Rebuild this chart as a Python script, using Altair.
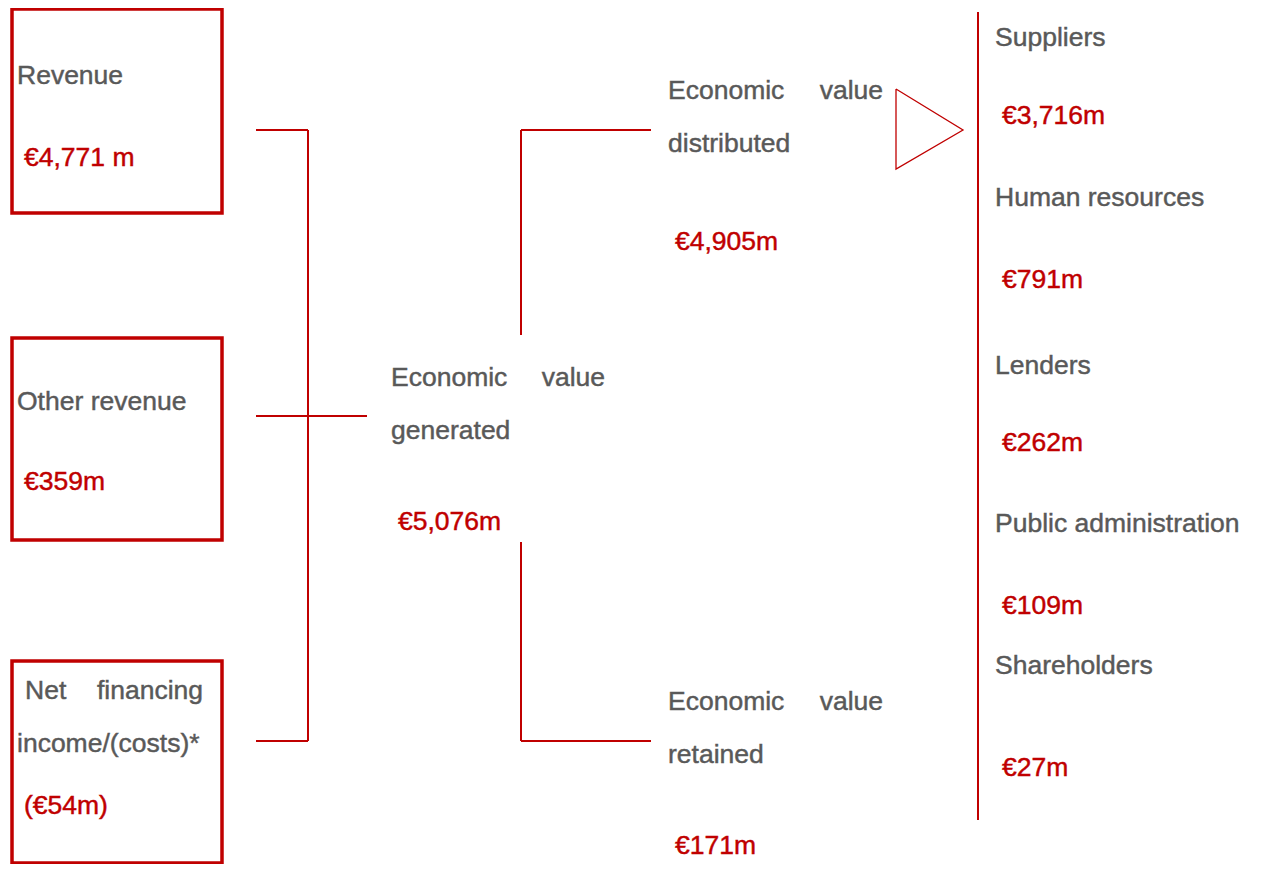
import altair as alt
import pandas as pd

# ---- content ----
left_labels = [["Revenue"], ["Other revenue"], ["Net|financing", "income/(costs)*"]]
left_values = ["€4,771 m", "€359m", "(€54m)"]
gen_label = ["Economic|value", "generated"]
gen_value = "€5,076m"
dist_label = ["Economic|value", "distributed"]
dist_value = "€4,905m"
ret_label = ["Economic|value", "retained"]
ret_value = "€171m"
stakeholders = ["Suppliers", "Human resources", "Lenders", "Public administration", "Shareholders"]
stake_values = ["€3,716m", "€791m", "€262m", "€109m", "€27m"]

# ---- layout (page pixel coordinates) ----
RED = "#C00000"
GRAY = "#595959"
FS = 26.5
W, H = 1265, 856
X0, Y0 = 8, 8
DY = 1

box_x = [12, 222]
box_y = [[9, 213], [338, 540], [661, 863]]
left_label_y = [[75], [401], [690, 743]]
left_value_y = [157, 481, 805]
left_label_x, left_just_right, left_value_x = 17, 203, 24

node_blocks = [
    # label lines, line ys, value, value y, x, right edge for justify
    (gen_label, [377, 430], gen_value, 521, 391, 605),
    (dist_label, [90, 143], dist_value, 241, 668, 883),
    (ret_label, [701, 754], ret_value, 845, 668, 883),
]
stake_label_y = [37, 197, 365, 523, 665]
stake_value_y = [115, 279, 442, 605, 767]
stake_x, stake_vx = 995, 1002

segments = [
    (256, 308, 130, 130), (308, 308, 130, 741), (256, 308, 741, 741), (256, 367, 416, 416),
    (521, 521, 130, 335), (521, 651, 130, 130),
    (521, 521, 542, 741), (521, 651, 741, 741),
    (978, 978, 12, 820),
]
tri_x = [896, 963, 896, 896]
tri_y = [89, 130, 169, 89]

# ---- build tables ----
texts = []


def add_line(line, x, y, right, color):
    y = y + DY
    if "|" in line:
        a, b = line.split("|")
        texts.append(dict(t=a, x=x, y=y, al="left", c=color))
        texts.append(dict(t=b, x=right, y=y, al="right", c=color))
    else:
        texts.append(dict(t=line, x=x, y=y, al="left", c=color))


for i, lines in enumerate(left_labels):
    for j, ln in enumerate(lines):
        lx = left_label_x + (8 if "|" in ln else 0)
        add_line(ln, lx, left_label_y[i][j], left_just_right, GRAY)
    add_line(left_values[i], left_value_x, left_value_y[i], 0, RED)

for lines, ys, val, vy, x, right in node_blocks:
    for ln, y in zip(lines, ys):
        add_line(ln, x, y, right, GRAY)
    add_line(val, x + 7, vy, 0, RED)

for i, s in enumerate(stakeholders):
    add_line(s, stake_x, stake_label_y[i], 0, GRAY)
    add_line(stake_values[i], stake_vx, stake_value_y[i], 0, RED)

text_df = pd.DataFrame(texts)
box_df = pd.DataFrame([dict(x=box_x[0], x2=box_x[1], y=b[0], y2=b[1]) for b in box_y])
seg_df = pd.DataFrame([dict(x=a, x2=b, y=c, y2=d) for a, b, c, d in segments])
tri_df = pd.DataFrame(dict(x=tri_x, y=tri_y, o=list(range(len(tri_x)))))

xs = alt.Scale(domain=[X0, X0 + W])
ys = alt.Scale(domain=[Y0, Y0 + H], reverse=True)

X = lambda f="x": alt.X(f, type="quantitative", scale=xs, axis=None)
Y = lambda f="y": alt.Y(f, type="quantitative", scale=ys, axis=None)

boxes = alt.Chart(box_df).mark_rect(fill="transparent", stroke=RED, strokeWidth=3.5).encode(
    x=X(), x2="x2", y=Y(), y2="y2")
rules = alt.Chart(seg_df).mark_rule(color=RED, strokeWidth=2).encode(
    x=X(), x2="x2", y=Y(), y2="y2")
tri = alt.Chart(tri_df).mark_line(color=RED, strokeWidth=1.3).encode(
    x=X(), y=Y(), order="o:Q")

layers = [boxes, rules, tri]
for al in ["left", "right"]:
    sub = text_df[text_df.al == al]
    layers.append(
        alt.Chart(sub).mark_text(align=al, baseline="middle", font="Liberation Sans", fontSize=FS,
                                 strokeWidth=0.45).encode(
            x=X(), y=Y(), text="t:N",
            color=alt.Color("c:N", scale=None),
            stroke=alt.Stroke("c:N", scale=None))
    )

chart = alt.layer(*layers).properties(
    width=W, height=H, padding=0, autosize=alt.AutoSizeParams(type="none"), background="white"
).configure_view(stroke=None)

chart.save("out.html", embed_options={"renderer": "svg", "actions": False})
